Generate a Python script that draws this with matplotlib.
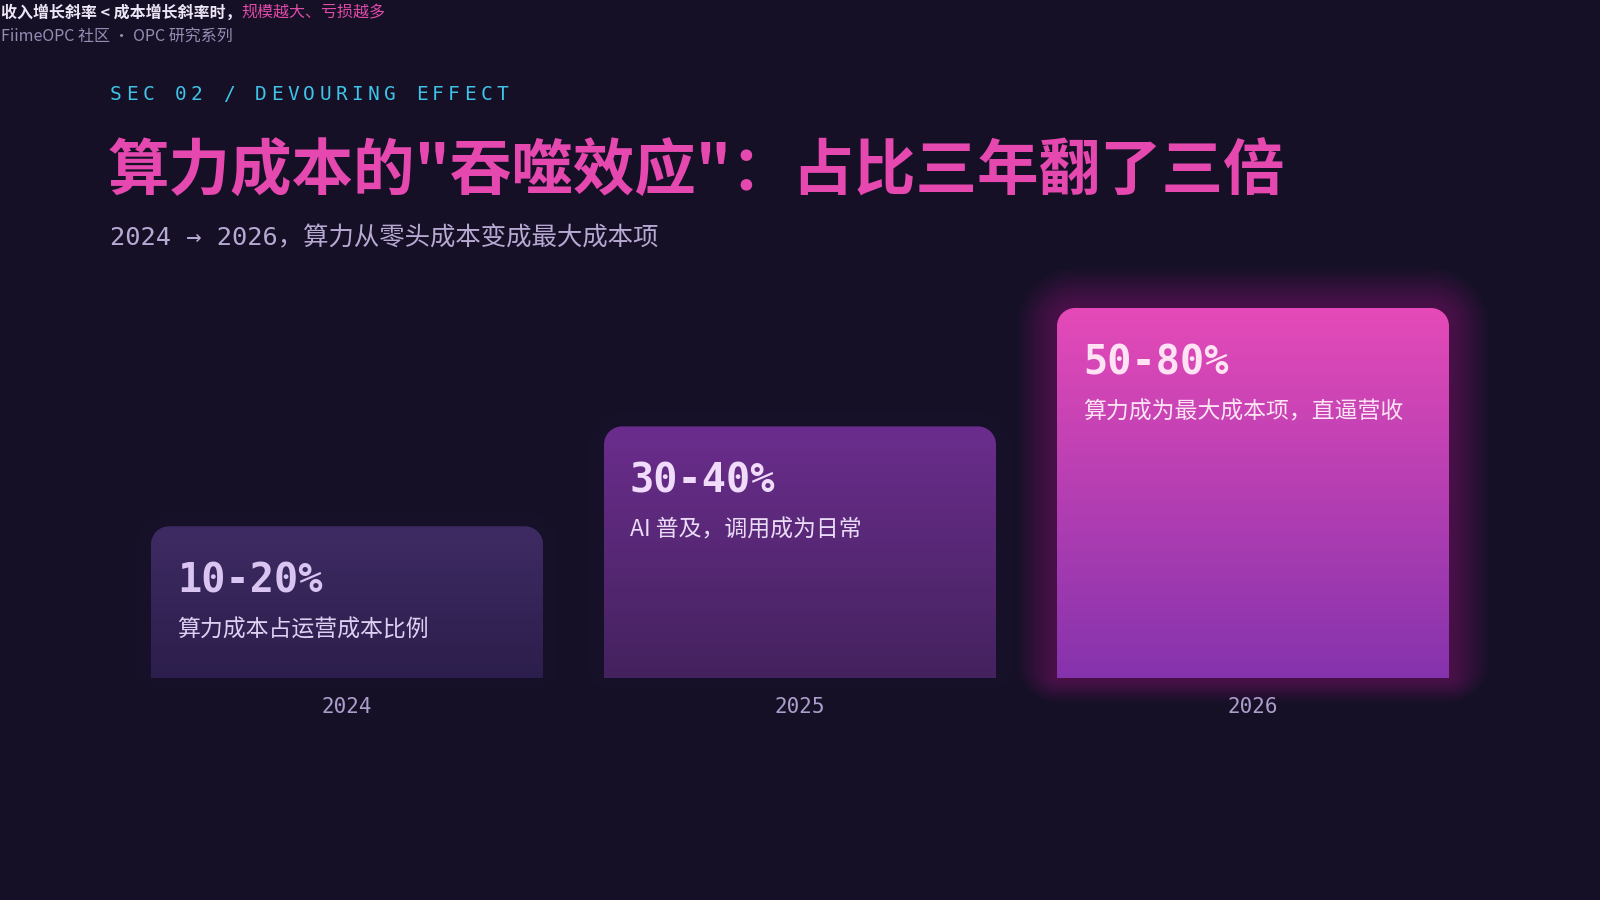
import numpy as np
import matplotlib
matplotlib.use("Agg")
import matplotlib.pyplot as plt
from matplotlib.path import Path
from matplotlib.patches import PathPatch
from matplotlib.colors import LinearSegmentedColormap

# ============================================================
# Data
# ============================================================
years = ["2024", "2025", "2026"]
card_heights = [41, 68, 100]          # relative card height (% of tallest)
value_labels = ["10-20%", "30-40%", "50-80%"]
descriptions = ["算力成本占运营成本比例", "AI 普及，调用成为日常", "算力成为最大成本项，直逼营收"]

top_colors = ["#3e2b63", "#6b2d8d", "#e54ab8"]
bottom_colors = ["#2c1e4c", "#44225e", "#8533ad"]
value_colors = ["#d9c4f2", "#f0dcfa", "#ffe3f5"]
desc_colors = ["#ddd0f2", "#eadcf6", "#fde4f4"]

BG = "#161027"
CJK = ["Noto Sans CJK SC", "DejaVu Sans"]
MONO_CJK = ["DejaVu Sans Mono", "Noto Sans CJK SC"]

# ============================================================
# Figure
# ============================================================
W, H = 1600, 900
fig = plt.figure(figsize=(16, 9), dpi=100, facecolor=BG)


def fy(px):
    return 1 - px / H


# --- header texts
t1 = fig.text(1 / W, fy(13), "收入增长斜率 < 成本增长斜率时，", family=CJK, fontsize=11.5,
              fontweight="bold", color="#ece6f6", va="center", ha="left")
fig.canvas.draw()
bb = t1.get_window_extent()
fig.text(bb.x1 / W, fy(13), "规模越大、亏损越多", family=CJK, fontsize=11.5, style="italic",
         color="#e04aa8", va="center", ha="left")
fig.text(1 / W, fy(37), "FiimeOPC 社区 · OPC 研究系列", family=CJK, fontsize=11.5,
         color="#968cb4", va="center", ha="left")

# section label with letter spacing
sec = "SEC 02 / DEVOURING EFFECT"
x0 = 110
for i, ch in enumerate(sec):
    fig.text((x0 + i * 16.1) / W, fy(95), ch, family="DejaVu Sans Mono", fontsize=14,
             color="#3fc3e6", va="center", ha="left")

fig.text(108 / W, fy(173), "算力成本的\"吞噬效应\"：占比三年翻了三倍", family=CJK,
         fontsize=44.3, fontweight="bold", color="#e548ae", va="center", ha="left")
fig.text(110 / W, fy(238), "2024 → 2026，算力从零头成本变成最大成本项", family=MONO_CJK,
         fontsize=18.3, color="#b7a9d2", va="center", ha="left")

# ============================================================
# Cards axes
# ============================================================
bottom_px, top_px = 678, 308
left_px, right_px = 120.5, 1479.5
ax = fig.add_axes([left_px / W, 1 - bottom_px / H, (right_px - left_px) / W,
                   (bottom_px - top_px) / H])
ax.axis("off")
ax.set_facecolor("none")

px_x = (right_px - left_px) / 3.0     # pixels per x unit
px_y = (bottom_px - top_px) / 100.0   # pixels per y unit
bar_w = 392 / px_x
K = 0.5523


def card_path(x0, x1, y0, y1, r_px, r_bot_px=0):
    rx, ry = r_px / px_x, r_px / px_y
    bx, by = r_bot_px / px_x, r_bot_px / px_y
    verts = [(x0 + bx, y0), (x1 - bx, y0)]
    codes = [Path.MOVETO, Path.LINETO]
    if r_bot_px:
        verts += [(x1 - bx + K * bx, y0), (x1, y0 + by - K * by), (x1, y0 + by)]
        codes += [Path.CURVE4] * 3
    verts += [(x1, y1 - ry), (x1, y1 - ry + K * ry), (x1 - rx + K * rx, y1), (x1 - rx, y1),
              (x0 + rx, y1), (x0 + rx - K * rx, y1), (x0, y1 - ry + K * ry), (x0, y1 - ry)]
    codes += [Path.LINETO, Path.CURVE4, Path.CURVE4, Path.CURVE4,
              Path.LINETO, Path.CURVE4, Path.CURVE4, Path.CURVE4]
    if r_bot_px:
        verts += [(x0, y0 + by), (x0, y0 + by - K * by), (x0 + bx - K * bx, y0), (x0 + bx, y0)]
        codes += [Path.LINETO, Path.CURVE4, Path.CURVE4, Path.CURVE4]
    verts.append((x0 + bx, y0))
    codes.append(Path.CLOSEPOLY)
    return Path(verts, codes)


for i, h in enumerate(card_heights):
    xa, xb = i - bar_w / 2, i + bar_w / 2

    # glow
    if i == 2:
        glow_col, n_glow, g_alpha, step = "#d83ca8", 18, 0.018, 2.2
    else:
        glow_col, n_glow, g_alpha, step = "#3a1f5c", 6, 0.02, 2.5
    for k in range(1, n_glow + 1):
        g = step * k
        gp = card_path(xa - g / px_x, xb + g / px_x, -g * 0.6 / px_y, h + g / px_y, 18 + g, g)
        ax.add_patch(PathPatch(gp, facecolor=glow_col, edgecolor="none", alpha=g_alpha,
                               clip_on=False, zorder=1))

    path = card_path(xa, xb, 0, h, 18)
    patch = PathPatch(path, facecolor="none", edgecolor="none", zorder=2)
    ax.add_patch(patch)
    cmap = LinearSegmentedColormap.from_list("c%d" % i, [bottom_colors[i], top_colors[i]])
    grad = np.linspace(0, 1, 256).reshape(-1, 1)
    im = ax.imshow(grad, extent=[xa, xb, 0, h], origin="lower", cmap=cmap, aspect="auto",
                   zorder=2, interpolation="bicubic")
    im.set_clip_path(patch)

    # texts inside card
    tx = xa + 26 / px_x
    ax.text(tx, h - 55 / px_y, value_labels[i], family="DejaVu Sans Mono", fontsize=29,
            fontweight="bold", color=value_colors[i], va="center", ha="left", zorder=3)
    ax.text(tx, h - 104 / px_y, descriptions[i], family=CJK, fontsize=16.5,
            color=desc_colors[i], va="center", ha="left", zorder=3)

    # year label
    ax.text(i, -29 / px_y, years[i], family="DejaVu Sans Mono", fontsize=15,
            color="#ac9ecb", va="center", ha="center", clip_on=False, zorder=3)

ax.set_xlim(-0.5, 2.5)
ax.set_ylim(0, 100)

fig.savefig("out.png", dpi=100, facecolor=BG)
